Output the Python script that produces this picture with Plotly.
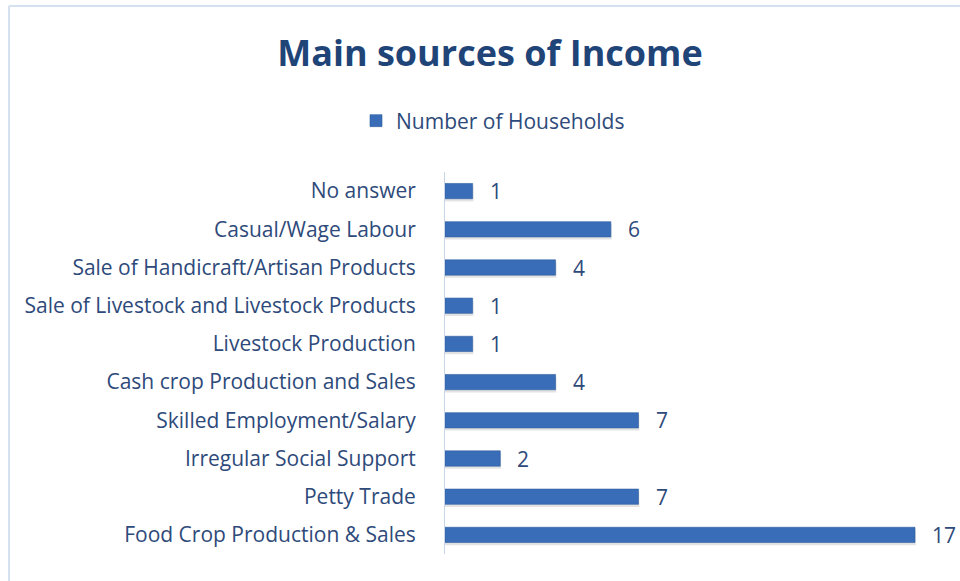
import plotly.graph_objects as go

# Main sources of household income (listed bottom to top)
categories = [
    "Food Crop Production & Sales",
    "Petty Trade",
    "Irregular Social Support",
    "Skilled Employment/Salary",
    "Cash crop Production and Sales",
    "Livestock Production",
    "Sale of Livestock and Livestock Products",
    "Sale of Handicraft/Artisan Products",
    "Casual/Wage Labour",
    "No answer",
]
households = [17, 7, 2, 7, 4, 1, 1, 4, 6, 1]

W, H = 960, 581
PLOT_L, PLOT_T, PLOT_B = 445, 172, 27
plot_w = W - PLOT_L
plot_h = H - PLOT_T - PLOT_B

def px_x(px):
    return (px - PLOT_L) / plot_w

def px_y(py):
    return 1 - (py - PLOT_T) / plot_h

FONT = "Open Sans, Lato, sans-serif"
BAR = "#3A6DB8"
TEXT = "#2E4A7A"
BAR_W = 0.4

fig = go.Figure()

# soft drop shadow under each bar
fig.add_trace(go.Bar(
    y=categories,
    x=[v + 0.03 for v in households],
    orientation="h",
    width=BAR_W,
    offset=-BAR_W / 2 - 0.07,
    marker=dict(color="rgba(80,80,80,0.16)", line=dict(width=0)),
    showlegend=False,
    hoverinfo="skip",
))

fig.add_trace(go.Bar(
    y=categories,
    x=households,
    orientation="h",
    width=BAR_W,
    offset=-BAR_W / 2,
    name="Number of Households",
    marker=dict(color=BAR, line=dict(color="#30609F", width=0.6)),
))

# value labels next to each bar
for cat, v in zip(categories, households):
    fig.add_annotation(
        x=v, y=cat, text=str(v), showarrow=False,
        xanchor="left", yanchor="middle", xshift=15,
        font=dict(family=FONT, size=21, color=TEXT),
    )

fig.update_layout(
    width=W,
    height=H,
    margin=dict(l=PLOT_L, r=0, t=PLOT_T, b=PLOT_B, pad=0),
    paper_bgcolor="white",
    plot_bgcolor="white",
    barmode="overlay",
    font=dict(family=FONT, color=TEXT),
    title=dict(
        text="<b>Main sources of Income</b>",
        x=490 / W, xanchor="center",
        y=1 - 53 / H, yanchor="middle", yref="container",
        font=dict(family=FONT, size=36, color="#1F4478"),
    ),
    showlegend=True,
    legend=dict(
        orientation="h",
        x=px_x(493), xanchor="center",
        y=px_y(121), yanchor="middle",
        font=dict(family=FONT, size=21, color=TEXT),
        itemwidth=30,
    ),
    xaxis=dict(
        range=[0, plot_w / ((915 - PLOT_L) / 17)],
        showgrid=False, zeroline=False, showticklabels=False,
        showline=False, ticks="",
    ),
    yaxis=dict(
        showgrid=False, zeroline=False,
        showline=True, linecolor="#C9D5E8", linewidth=1,
        ticks="", ticklabelstandoff=24,
        tickfont=dict(family=FONT, size=21, color=TEXT),
        categoryorder="array", categoryarray=categories,
    ),
    shapes=[
        # chart frame
        dict(type="line", xref="paper", yref="paper",
             x0=px_x(9), x1=px_x(W + 5), y0=px_y(6), y1=px_y(6),
             line=dict(color="#D6E1F0", width=2)),
        dict(type="line", xref="paper", yref="paper",
             x0=px_x(9), x1=px_x(9), y0=px_y(6), y1=px_y(H + 5),
             line=dict(color="#D6E1F0", width=2)),
    ],
)

fig.write_html("out.html")
